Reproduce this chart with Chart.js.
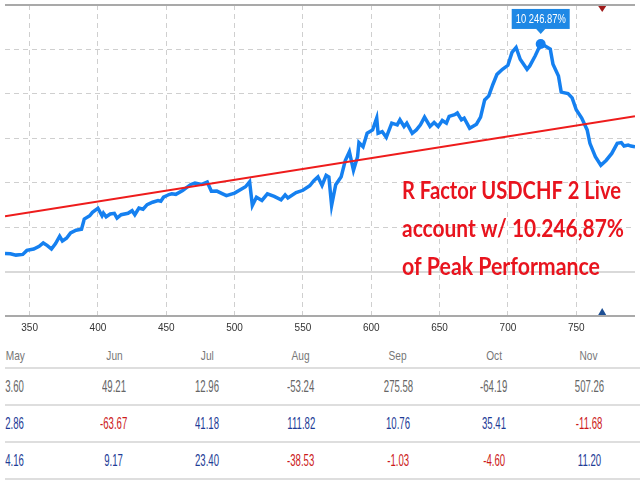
<!DOCTYPE html>
<html>
<head>
<meta charset="utf-8">
<script src="https://cdn.jsdelivr.net/npm/chart.js@4.4.0/dist/chart.umd.min.js"></script>
<style>
html, body { margin: 0; padding: 0; background: #fff; overflow: hidden; }
#wrap { position: relative; width: 640px; height: 480px; }
#chart { position: absolute; left: 0; top: 0; }
.cell { position: absolute; width: 100px; height: 20px; line-height: 20px; text-align: center;
        font-family: "Liberation Sans", Arial, sans-serif; white-space: nowrap; }
.cell span { display: inline-block; transform-origin: center center; }
.rule { position: absolute; left: 5px; width: 635px; height: 2px; background: #dedede; }
</style>
</head>
<body>
<div id="wrap">
  <canvas id="chart" width="640" height="340"></canvas>
  <div id="table"></div>
</div>
<script>
// equity growth in %, by trade number
var trades = [332,336,340,345,348,353,357,360,363,366,
  369,372,374,377,380,384,388,390,394,396,
  400,403,404,406,409,412,414,417,422,425,
  427,430,433,436,440,444,446,448,452,454,
  457,462,468,471,476,480,483,487,494,500,
  508,511,513,516,520,524,529,534,537,539,
  545,550,555,558,561,564,567,569,571,574,
  578,581,584,587,590,591,594,597,601,604,
  605,608,611,615,619,621,624,626,630,633,
  636,639,643,646,649,652,655,657,661,663,
  666,668,672,677,680,683,686,689,692,696,
  700,703,706,709,714,716,720,724,727,731,
  733,737,739,744,747,750,754,758,760,764,
  768,772,776,780,783,785,788,790,793];
var growth = [818,804,741,773,954,1014,1136,1286,1168,1014,
  1259,1591,1377,1500,1741,1863,1909,2363,2513,2668,
  2850,2513,2636,2468,2591,2622,2409,2559,2622,2741,
  2559,2863,2804,3013,3122,3195,3168,3350,3468,3500,
  3477,3650,3922,3986,3922,4031,3613,3622,3422,3531,
  3818,4045,2977,3350,3204,3500,3386,3227,3454,3318,
  3554,3659,3863,4091,4259,3877,4331,4259,2977,3909,
  4272,5000,5395,4559,5168,5804,5622,6227,6377,6908,
  6227,6304,6045,6681,6604,6831,6531,6681,6227,6377,
  6604,6954,6531,6713,6531,6804,6681,6986,7059,7136,
  6831,6908,6454,6636,6954,7727,7909,8422,8877,9104,
  9286,9863,10090,9559,9104,9258,9713,10246.87,10167,10013,
  9331,8804,8077,8013,7818,7286,6908,6377,5772,5168,
  4786,5013,5318,5772,5804,5650,5695,5650,5622];

// red trend line
var trendX = [332, 793];
var trendY = [2490, 6990];

var peakTrade = 724;
var peakGrowth = 10246.87;
var markTrade = 769;

var xTicks = [350, 400, 450, 500, 550, 600, 650, 700, 750];

var titleLines = ['R Factor USDCHF 2 Live', 'account w/ 10.246,87%', 'of Peak Performance'];

// monthly table
var months = ['May', 'Jun', 'Jul', 'Aug', 'Sep', 'Oct', 'Nov'];
var rowA = [3.60, 49.21, 12.96, -53.24, 275.58, -64.19, 507.26];
var rowB = [2.86, -63.67, 41.18, 111.82, 10.76, 35.41, -11.68];
var rowC = [4.16, 9.17, 23.40, -38.53, -1.03, -4.60, 11.20];

var BLUE = '#1580f0';

function fitText(ctx, text, x, y, width, align) {
  var w = ctx.measureText(text).width;
  ctx.save();
  ctx.translate(x, y);
  ctx.scale(width / w, 1);
  ctx.textAlign = align;
  ctx.fillText(text, 0, 0);
  ctx.restore();
}

function peakLabel(v) {
  var s = v.toFixed(2).split('.');
  return s[0].replace(/\B(?=(\d{3})+(?!\d))/g, ' ') + '.' + s[1] + '%';
}

var notes = {
  id: 'notes',
  afterDatasetsDraw: function (chart) {
    var ctx = chart.ctx, x = chart.scales.x, y = chart.scales.y, area = chart.chartArea;
    var px = x.getPixelForValue(peakTrade), py = y.getPixelForValue(peakGrowth);

    // peak value box
    ctx.save();
    ctx.fillStyle = '#1e88e5';
    ctx.fillRect(px - 29, py - 35, 58, 20);
    ctx.beginPath();
    ctx.moveTo(px - 5, py - 15.5);
    ctx.lineTo(px + 5, py - 15.5);
    ctx.lineTo(px, py - 10);
    ctx.closePath();
    ctx.fill();
    ctx.fillStyle = '#fff';
    ctx.font = '12px "Liberation Sans", Arial, sans-serif';
    ctx.textBaseline = 'middle';
    fitText(ctx, peakLabel(peakGrowth), px, py - 24.5, 50, 'center');

    // markers at top and bottom
    var mx = x.getPixelForValue(markTrade);
    ctx.fillStyle = '#a01a1a';
    ctx.beginPath();
    ctx.moveTo(mx - 4, area.top + 1);
    ctx.lineTo(mx + 4, area.top + 1);
    ctx.lineTo(mx, area.top + 7);
    ctx.closePath();
    ctx.fill();
    ctx.fillStyle = '#1d4f94';
    ctx.beginPath();
    ctx.moveTo(mx - 4, area.bottom - 1);
    ctx.lineTo(mx + 4, area.bottom - 1);
    ctx.lineTo(mx, area.bottom - 8);
    ctx.closePath();
    ctx.fill();

    // red caption
    ctx.fillStyle = '#e8141e';
    ctx.font = 'bold 25px Lato, "Open Sans", sans-serif';
    ctx.textBaseline = 'alphabetic';
    var base = [199, 237, 275], widths = [219, 222, 198];
    for (var i = 0; i < titleLines.length; i++) {
      fitText(ctx, titleLines[i], 402, base[i], widths[i], 'left');
    }
    ctx.restore();
  }
};

function isEdge(c) { return c.tick && (c.tick.value === -2000 || c.tick.value === 12000); }
function isZero(c) { return c.tick && c.tick.value === 0; }

var ctx = document.getElementById('chart');
new Chart(ctx, {
  type: 'line',
  data: {
    datasets: [{
      label: 'Growth',
      data: trades.map(function (t, i) { return {x: t, y: growth[i]}; }),
      borderColor: BLUE,
      borderWidth: 3.5,
      pointRadius: 0,
      tension: 0,
      order: 2
    }, {
      label: 'Trend',
      data: trendX.map(function (t, i) { return {x: t, y: trendY[i]}; }),
      borderColor: '#ee1c1c',
      borderWidth: 2,
      pointRadius: 0,
      order: 1
    }, {
      label: 'Peak',
      data: [{x: peakTrade, y: peakGrowth}],
      showLine: false,
      pointRadius: 5,
      pointBackgroundColor: BLUE,
      pointBorderWidth: 0,
      order: 0
    }]
  },
  options: {
    responsive: false,
    animation: false,
    layout: {padding: {left: 4, top: 3, right: 0, bottom: 0}},
    plugins: {legend: {display: false}, tooltip: {enabled: false}},
    scales: {
      x: {
        type: 'linear',
        min: 332,
        max: 793,
        afterBuildTicks: function (s) { s.ticks = xTicks.map(function (v) { return {value: v}; }); },
        grid: {color: '#cfcfcf', lineWidth: 1, drawTicks: false},
        border: {display: false, dash: [5, 4]},
        ticks: {padding: 6, color: '#333', font: {family: 'Liberation Sans', size: 10}}
      },
      y: {
        min: -2000,
        max: 12000,
        ticks: {display: false, stepSize: 2000},
        grid: {
          drawTicks: false,
          color: function (c) { return isEdge(c) ? '#a9a9a9' : (isZero(c) ? '#d9d9d9' : '#cfcfcf'); },
          lineWidth: function (c) { return (isEdge(c) || isZero(c)) ? 2 : 1; }
        },
        border: {
          display: false,
          dash: function (c) { return (isEdge(c) || isZero(c)) ? [] : [5, 4]; }
        }
      }
    }
  },
  plugins: [notes]
});

// table below the chart
var colX = [15, 114, 207, 301, 398, 494, 589];
var rowY = [356, 387, 424, 460.5];
var ruleY = [368, 405, 442, 479];
var table = document.getElementById('table');

function addCell(text, cx, cy, size, sx, color) {
  var d = document.createElement('div');
  d.className = 'cell';
  d.style.left = (cx - 50) + 'px';
  d.style.top = (cy - 10) + 'px';
  d.style.fontSize = size + 'px';
  d.style.color = color;
  var s = document.createElement('span');
  s.textContent = text;
  s.style.transform = 'scaleX(' + sx + ')';
  d.appendChild(s);
  table.appendChild(d);
}

months.forEach(function (m, i) { addCell(m, colX[i], rowY[0], 13, 0.78, '#777'); });
[rowA, rowB, rowC].forEach(function (row, r) {
  row.forEach(function (v, i) {
    var color = r === 0 ? '#666' : (v < 0 ? '#cc1a1a' : '#1e3c96');
    addCell(v.toFixed(2), colX[i], rowY[r + 1], 16, 0.6, color);
  });
});
ruleY.forEach(function (y) {
  var l = document.createElement('div');
  l.className = 'rule';
  l.style.top = (y - 1) + 'px';
  table.appendChild(l);
});
</script>
</body>
</html>
